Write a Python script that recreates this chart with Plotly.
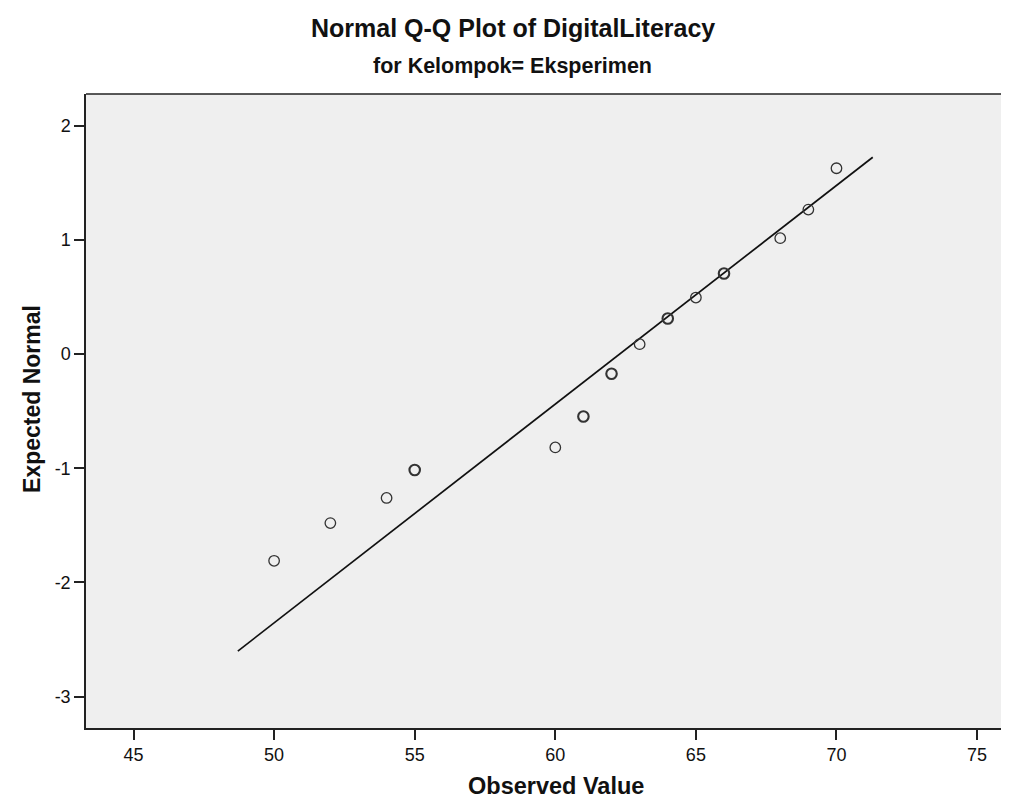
import plotly.graph_objects as go

observed = [50, 52, 54, 55, 60, 61, 62, 63, 64, 65, 66, 68, 69, 70]
expected = [-1.81, -1.48, -1.26, -1.015, -0.817, -0.546, -0.172, 0.087, 0.311, 0.495, 0.705, 1.015, 1.265, 1.627]
counts = [1, 1, 1, 2, 1, 2, 2, 1, 2, 1, 2, 1, 1, 1]

# Reference line: expected = (x - mean) / sd
line_mean = 62.29
line_sd = 5.222
line_x = [48.71, 71.29]
line_y = [(v - line_mean) / line_sd for v in line_x]

x_ticks = [45, 50, 55, 60, 65, 70, 75]
y_ticks = [-3, -2, -1, 0, 1, 2]

FONT = "Liberation Sans, Arial, sans-serif"

fig = go.Figure()
fig.add_trace(go.Scatter(
    x=line_x, y=line_y, mode="lines",
    line=dict(color="#111111", width=1.7),
    hoverinfo="skip", showlegend=False,
))
fig.add_trace(go.Scatter(
    x=observed, y=expected, mode="markers",
    marker=dict(symbol="circle-open", size=10.5, color="#333333",
                line=dict(color="#333333", width=[1.3 if c == 1 else 2.1 for c in counts])),
    showlegend=False,
))

fig.update_layout(
    width=1009, height=798,
    margin=dict(l=78, r=0, t=86, b=78),
    paper_bgcolor="white",
    plot_bgcolor="#efefef",
    font=dict(family=FONT, color="#111111", size=18),
    showlegend=False,
    annotations=[
        dict(text="<b>Normal Q-Q Plot of DigitalLiteracy</b>", xref="paper", yref="paper",
             x=0.5, y=1, yshift=66, xanchor="center", yanchor="middle", showarrow=False,
             font=dict(family=FONT, size=25, color="#111111"), xshift=-39),
        dict(text="<b>for Kelompok= Eksperimen</b>", xref="paper", yref="paper",
             x=0.5, y=1, yshift=28, xanchor="center", yanchor="middle", showarrow=False,
             font=dict(family=FONT, size=21.5, color="#111111"), xshift=-39),
        dict(text="<b>Observed Value</b>", xref="paper", yref="paper",
             x=0.5048, y=0, yshift=-58, xanchor="center", yanchor="middle", showarrow=False,
             font=dict(family=FONT, size=23.5, color="#111111")),
        dict(text="<b>Expected Normal</b>", xref="paper", yref="paper",
             x=-0.058, y=0.519, xanchor="center", yanchor="middle", showarrow=False,
             textangle=-90, font=dict(family=FONT, size=23, color="#111111")),
    ],
    shapes=[
        dict(type="line", xref="paper", yref="paper", x0=0, x1=1, y0=1, y1=1,
             line=dict(color="#222222", width=1.5)),
    ],
)

fig.update_xaxes(
    range=[43.31, 76.42], tickvals=x_ticks, ticktext=[str(t) for t in x_ticks],
    showgrid=False, zeroline=False, showline=True, linecolor="#222222", linewidth=1.5,
    ticks="outside", ticklen=10, tickwidth=1.5, tickcolor="#222222",
    tickfont=dict(size=18, family=FONT),
)
fig.update_yaxes(
    range=[-3.274, 2.277], tickvals=y_ticks, ticktext=[str(t) for t in y_ticks],
    showgrid=False, zeroline=False, showline=True, linecolor="#222222", linewidth=1.5,
    ticks="outside", ticklen=10, tickwidth=1.5, tickcolor="#222222",
    tickfont=dict(size=18, family=FONT),
)

fig.write_html("out.html")
